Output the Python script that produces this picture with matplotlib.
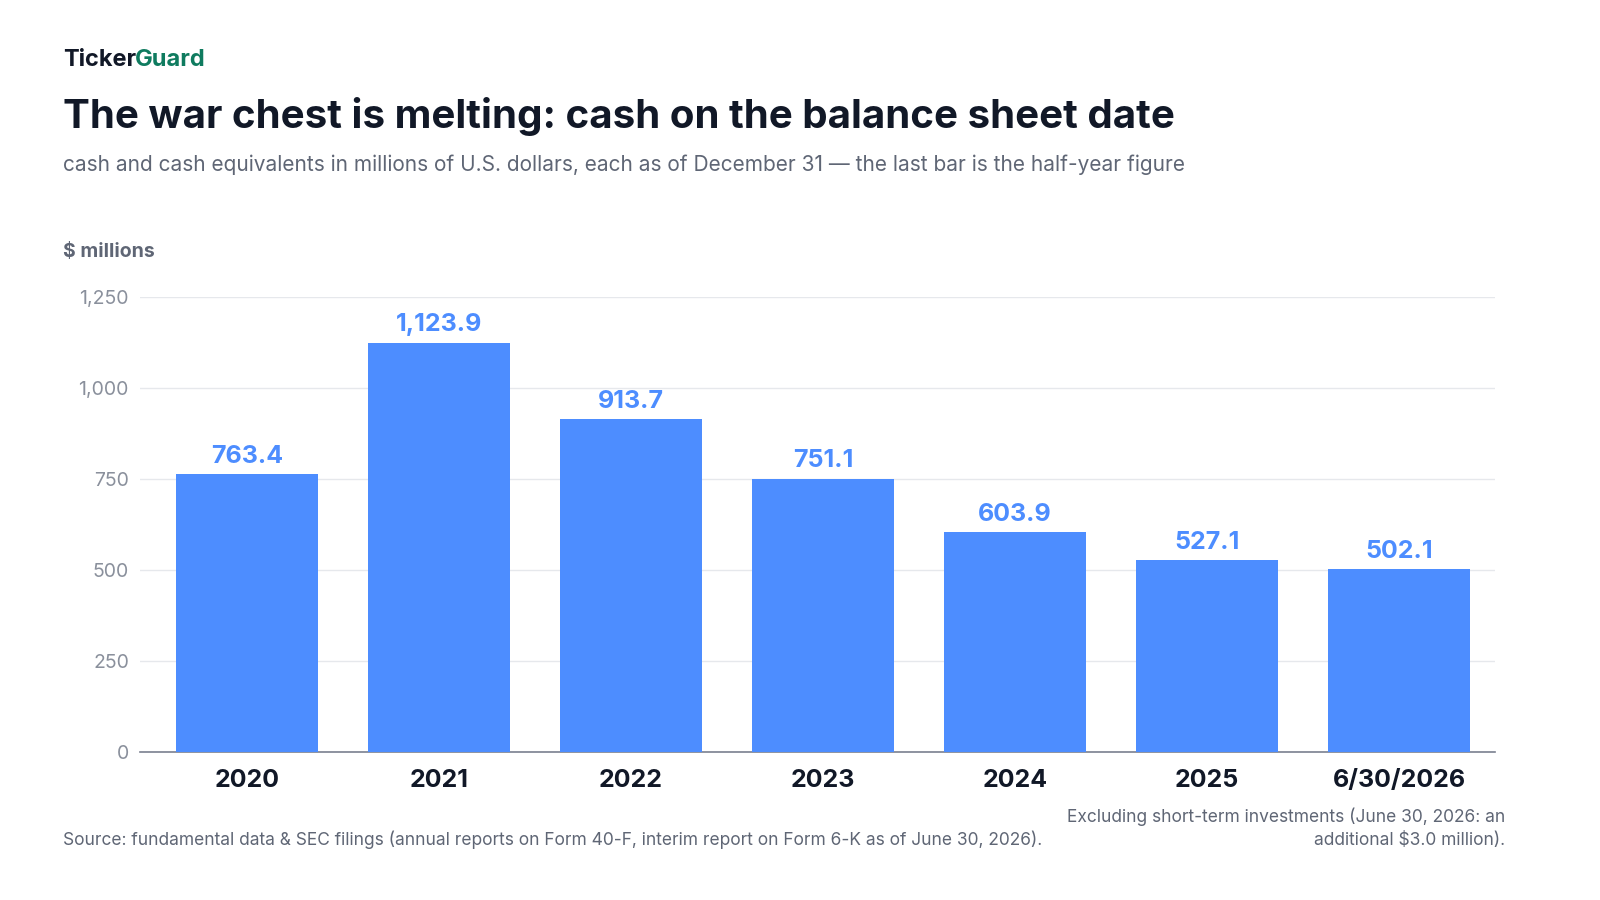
import matplotlib.pyplot as plt

plt.rcParams['font.family'] = ['Inter', 'DejaVu Sans']

periods = ["2020", "2021", "2022", "2023", "2024", "2025", "6/30/2026"]
cash = [763.4, 1123.9, 913.7, 751.1, 603.9, 527.1, 502.1]
yticks = [0, 250, 500, 750, 1000, 1250]

blue = "#4D8DFF"
fig = plt.figure(figsize=(16, 9), dpi=100)
ax = fig.add_axes([140/1600, 1-752/900, 1355/1600, 455/900])

x = range(len(periods))
ax.bar(x, cash, width=0.74, color=blue, zorder=3)
for i, v in zip(x, cash):
    ax.text(i, v + 18, f"{v:,.1f}", ha="center", va="bottom", fontsize=18,
            fontweight="bold", color=blue)

ax.set_xlim(-0.557, 6.5)
ax.set_ylim(0, 1250)
ax.set_yticks(yticks)
ax.set_yticklabels([f"{t:,}" for t in yticks], fontsize=14, color="#8A909C")
ax.set_xticks(list(x))
ax.set_xticklabels(periods, fontsize=18, fontweight="bold", color="#111827")
ax.tick_params(axis="y", length=0, pad=8)
ax.tick_params(axis="x", length=0, pad=12)
ax.grid(axis="y", color="#E6E8EC", linewidth=1, zorder=0)
for s in ["top", "right", "left"]:
    ax.spines[s].set_visible(False)
ax.spines["bottom"].set_color("#7A8090")
ax.spines["bottom"].set_linewidth(1.2)

fig.text(63/1600, 1-60/900, "Ticker", fontsize=17, fontweight="bold", color="#111827", va="center")
fig.text(135/1600, 1-60/900, "Guard", fontsize=17, fontweight="bold", color="#0F7B5F", va="center")
fig.text(63/1600, 1-116/900, "The war chest is melting: cash on the balance sheet date",
         fontsize=29, fontweight="bold", color="#111827", va="center")
fig.text(63/1600, 1-165/900,
         "cash and cash equivalents in millions of U.S. dollars, each as of December 31 \u2014 the last bar is the half-year figure",
         fontsize=15, color="#5F6675", va="center")
fig.text(63/1600, 1-252/900, "$ millions", fontsize=14, fontweight="bold", color="#5F6675", va="center")
fig.text(63/1600, 1-840/900,
         "Source: fundamental data & SEC filings (annual reports on Form 40-F, interim report on Form 6-K as of June 30, 2026).",
         fontsize=12.5, color="#5F6675", va="center")
fig.text(1505/1600, 1-828/900,
         "Excluding short-term investments (June 30, 2026: an\nadditional $3.0 million).",
         fontsize=12.5, color="#5F6675", va="center", ha="right", linespacing=1.5,
         multialignment="right")

fig.savefig("out.png", dpi=100, facecolor="white")
